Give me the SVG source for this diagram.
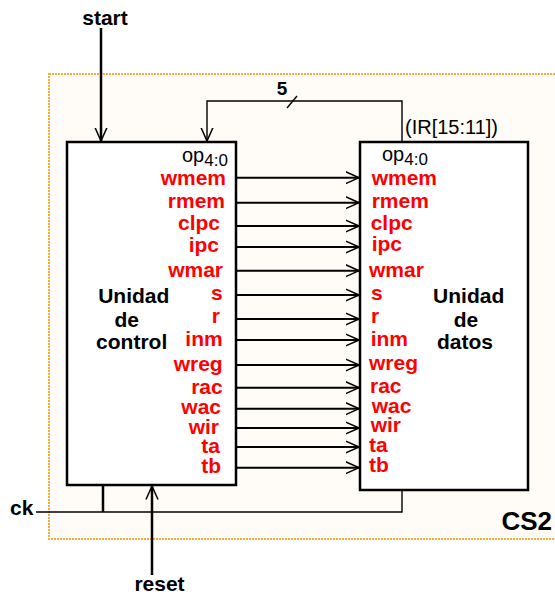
<svg xmlns="http://www.w3.org/2000/svg" width="555" height="597" viewBox="0 0 555 597">
<defs>
<style>
.b{font-family:"Liberation Sans",Arial,sans-serif;font-weight:bold;font-size:21px;fill:#000}
.r{font-family:"Liberation Sans",Arial,sans-serif;font-weight:bold;font-size:21px;fill:#ff0000}
.n{font-family:"Liberation Sans",Arial,sans-serif;font-size:20px;fill:#000}
.box{fill:#fff;stroke:#000;stroke-width:2.5}
.sig{stroke:#000;stroke-width:2;fill:none}
.thin{stroke:#000;stroke-width:1.4;fill:none}
.thick{stroke:#000;stroke-width:2.5;fill:none}
</style>
<marker id="ah" viewBox="0 0 14 14" refX="13.5" refY="7" markerWidth="14" markerHeight="14" markerUnits="userSpaceOnUse" orient="auto">
<path d="M0,1 L13.5,7 L0,13" fill="none" stroke="#000" stroke-width="1.5"/>
</marker>
</defs>
<g id="cs2">
<rect x="49" y="74" width="530" height="465" fill="#fffcf7" stroke="#f8ad3a" stroke-width="2" stroke-dasharray="2 1"/>
<text class="b" x="552" y="530" font-size="26" text-anchor="end" style="font-size:26px">CS2</text>
</g>
<g id="connectors">
<path class="thick" d="M101,28 V141" marker-end="url(#ah)"/>
<path class="thin" d="M402,142 V101 H207 V141" marker-end="url(#ah)"/>
<path class="thin" d="M287,108 L297,96"/>
<path class="thick" d="M152,575 V486" marker-end="url(#ah)"/>
<path class="thin" d="M36,512 H402 V490"/>
<path class="thick" d="M103,485 V512"/>
<g class="sig">
<path d="M236,177.7 H359" marker-end="url(#ah)"/>
<path d="M236,202.7 H359" marker-end="url(#ah)"/>
<path d="M236,226 H359" marker-end="url(#ah)"/>
<path d="M236,247 H359" marker-end="url(#ah)"/>
<path d="M236,270.7 H359" marker-end="url(#ah)"/>
<path d="M236,295 H359" marker-end="url(#ah)"/>
<path d="M236,319 H359" marker-end="url(#ah)"/>
<path d="M236,340 H359" marker-end="url(#ah)"/>
<path d="M236,365 H359" marker-end="url(#ah)"/>
<path d="M236,387.7 H359" marker-end="url(#ah)"/>
<path d="M236,408.7 H359" marker-end="url(#ah)"/>
<path d="M236,428 H359" marker-end="url(#ah)"/>
<path d="M236,447 H359" marker-end="url(#ah)"/>
<path d="M236,467.7 H359" marker-end="url(#ah)"/>
</g>
</g>
<g id="control">
<rect class="box" x="67" y="142" width="169" height="343"/>
<text class="n" x="182" y="162">op<tspan font-size="17" dy="4">4:0</tspan></text>
<text class="b" x="133.8" y="303" text-anchor="middle">Unidad</text>
<text class="b" x="126.7" y="327" text-anchor="middle">de</text>
<text class="b" x="131.7" y="349" text-anchor="middle">control</text>
<g class="r" text-anchor="end">
<text x="226" y="185">wmem</text>
<text x="225" y="208">rmem</text>
<text x="220" y="230">clpc</text>
<text x="219" y="252">ipc</text>
<text x="223" y="277">wmar</text>
<text x="222.7" y="300">s</text>
<text x="220" y="323">r</text>
<text x="222.7" y="346">inm</text>
<text x="222.7" y="370.7">wreg</text>
<text x="222.7" y="394">rac</text>
<text x="221" y="414">wac</text>
<text x="219" y="434">wir</text>
<text x="220" y="452.7">ta</text>
<text x="221" y="473">tb</text>
</g>
</g>
<g id="datos">
<rect class="box" x="360" y="142" width="168" height="348"/>
<text class="n" x="382" y="161">op<tspan font-size="17" dy="4">4:0</tspan></text>
<text class="b" x="468.7" y="303" text-anchor="middle">Unidad</text>
<text class="b" x="466" y="327" text-anchor="middle">de</text>
<text class="b" x="465" y="349" text-anchor="middle">datos</text>
<g class="r">
<text x="371.7" y="185">wmem</text>
<text x="371.7" y="208">rmem</text>
<text x="370.7" y="230">clpc</text>
<text x="371.7" y="251">ipc</text>
<text x="369" y="276.7">wmar</text>
<text x="371" y="300">s</text>
<text x="371" y="323">r</text>
<text x="370.7" y="346">inm</text>
<text x="369" y="370">wreg</text>
<text x="370" y="392.7">rac</text>
<text x="371.7" y="412.7">wac</text>
<text x="370.7" y="431.7">wir</text>
<text x="369" y="451.7">ta</text>
<text x="369" y="471.7">tb</text>
</g>
</g>
<g id="labels">
<text class="b" x="105" y="25" text-anchor="middle">start</text>
<text class="b" x="282" y="95" text-anchor="middle" style="font-size:19px">5</text>
<text class="n" x="405" y="134">(IR[15:11])</text>
<text class="b" x="10" y="515">ck</text>
<text class="b" x="159.5" y="591" text-anchor="middle">reset</text>
</g>
</svg>
